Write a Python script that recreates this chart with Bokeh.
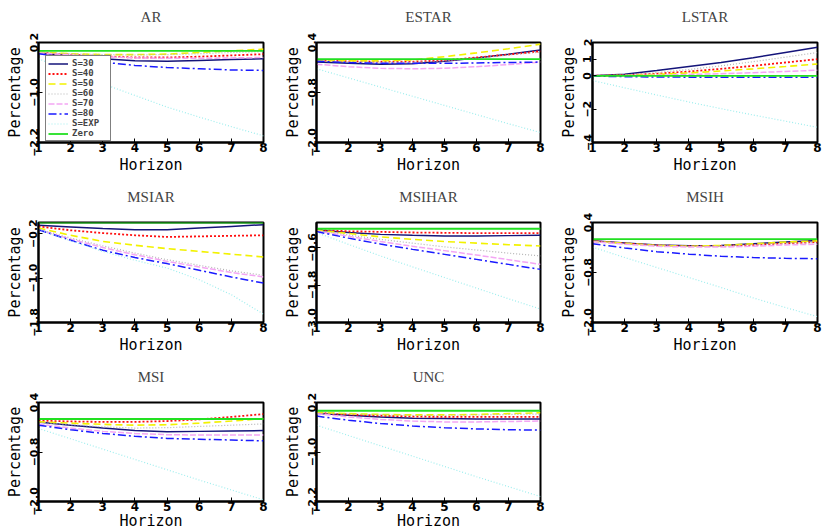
from bokeh.plotting import figure
from bokeh.layouts import row, column
from bokeh.models import Legend, LegendItem, FixedTicker, Range1d, Title
from bokeh.embed import file_html
from bokeh.resources import INLINE

horizon = [1, 2, 3, 4, 5, 6, 7, 8]
series_names = ["S=30", "S=40", "S=50", "S=60", "S=70", "S=80", "S=EXP", "Zero"]
zero = [0, 0, 0, 0, 0, 0, 0, 0]

# AR
ar_s30 = [-0.05, -0.12, -0.19, -0.24, -0.25, -0.23, -0.21, -0.19]
ar_s40 = [-0.04, -0.09, -0.13, -0.16, -0.16, -0.14, -0.11, -0.08]
ar_s50 = [-0.03, -0.07, -0.09, -0.09, -0.08, -0.04, 0.00, 0.04]
ar_s60 = [-0.04, -0.07, -0.09, -0.10, -0.09, -0.07, -0.04, -0.02]
ar_s70 = [-0.05, -0.10, -0.14, -0.17, -0.18, -0.18, -0.17, -0.16]
ar_s80 = [-0.07, -0.17, -0.27, -0.35, -0.40, -0.43, -0.46, -0.47]
ar_exp = [-0.19, -0.50, -0.79, -1.07, -1.35, -1.59, -1.82, -2.04]
# ESTAR
estar_s30 = [-0.07, -0.10, -0.12, -0.11, -0.05, 0.03, 0.12, 0.22]
estar_s40 = [-0.03, -0.05, -0.06, -0.06, -0.03, 0.04, 0.11, 0.19]
estar_s50 = [-0.03, -0.04, -0.04, -0.02, 0.06, 0.15, 0.25, 0.36]
estar_s60 = [-0.04, -0.06, -0.07, -0.07, -0.04, 0.02, 0.10, 0.17]
estar_s70 = [-0.12, -0.18, -0.22, -0.23, -0.22, -0.18, -0.13, -0.07]
estar_s80 = [-0.05, -0.08, -0.10, -0.10, -0.10, -0.09, -0.08, -0.07]
estar_exp = [-0.23, -0.45, -0.67, -0.89, -1.11, -1.33, -1.55, -1.76]
# LSTAR
lstar_s30 = [0.0, 0.09, 0.32, 0.56, 0.80, 1.09, 1.40, 1.72]
lstar_s40 = [0.0, 0.04, 0.13, 0.26, 0.42, 0.60, 0.80, 1.00]
lstar_s50 = [0.0, 0.02, 0.08, 0.17, 0.29, 0.42, 0.56, 0.71]
lstar_s60 = [0.0, 0.06, 0.20, 0.38, 0.60, 0.85, 1.12, 1.40]
lstar_s70 = [0.0, 0.01, 0.04, 0.08, 0.13, 0.19, 0.26, 0.34]
lstar_s80 = [-0.02, -0.05, -0.07, -0.08, -0.09, -0.09, -0.09, -0.09]
lstar_exp = [-0.28, -0.72, -1.15, -1.57, -1.97, -2.35, -2.72, -3.09]
# MSIAR
msiar_s30 = [-0.05, -0.08, -0.11, -0.13, -0.13, -0.10, -0.07, -0.04]
msiar_s40 = [-0.07, -0.14, -0.19, -0.23, -0.26, -0.25, -0.24, -0.23]
msiar_s50 = [-0.10, -0.23, -0.34, -0.41, -0.47, -0.52, -0.57, -0.62]
msiar_s60 = [-0.12, -0.28, -0.42, -0.55, -0.67, -0.77, -0.87, -0.95]
msiar_s70 = [-0.13, -0.30, -0.45, -0.58, -0.70, -0.80, -0.90, -0.98]
msiar_s80 = [-0.13, -0.32, -0.50, -0.63, -0.74, -0.86, -0.98, -1.09]
msiar_exp = [-0.13, -0.33, -0.52, -0.68, -0.82, -1.03, -1.30, -1.65]
# MSIHAR
msihar_s30 = [-0.04, -0.12, -0.18, -0.21, -0.23, -0.23, -0.22, -0.21]
msihar_s40 = [-0.04, -0.08, -0.10, -0.12, -0.13, -0.14, -0.14, -0.14]
msihar_s50 = [-0.05, -0.15, -0.26, -0.34, -0.41, -0.46, -0.51, -0.55]
msihar_s60 = [-0.06, -0.20, -0.34, -0.46, -0.58, -0.68, -0.78, -0.87]
msihar_s70 = [-0.07, -0.24, -0.41, -0.56, -0.70, -0.84, -0.99, -1.14]
msihar_s80 = [-0.09, -0.30, -0.49, -0.66, -0.82, -0.98, -1.14, -1.30]
msihar_exp = [-0.12, -0.50, -0.87, -1.22, -1.56, -1.90, -2.24, -2.57]
# MSIH
msih_s30 = [-0.04, -0.09, -0.14, -0.16, -0.15, -0.11, -0.07, -0.03]
msih_s40 = [-0.05, -0.10, -0.15, -0.17, -0.16, -0.14, -0.10, -0.07]
msih_s50 = [-0.05, -0.10, -0.15, -0.17, -0.15, -0.11, -0.07, -0.04]
msih_s60 = [-0.05, -0.11, -0.15, -0.17, -0.16, -0.13, -0.10, -0.08]
msih_s70 = [-0.06, -0.12, -0.17, -0.19, -0.19, -0.17, -0.14, -0.12]
msih_s80 = [-0.11, -0.21, -0.30, -0.36, -0.41, -0.44, -0.46, -0.47]
msih_exp = [-0.19, -0.44, -0.68, -0.92, -1.16, -1.41, -1.64, -1.86]
# MSI
msi_s30 = [-0.07, -0.15, -0.22, -0.28, -0.31, -0.30, -0.29, -0.28]
msi_s40 = [-0.04, -0.06, -0.07, -0.07, -0.05, -0.01, 0.05, 0.12]
msi_s50 = [-0.07, -0.10, -0.13, -0.15, -0.14, -0.10, -0.05, 0.01]
msi_s60 = [-0.08, -0.14, -0.19, -0.22, -0.21, -0.18, -0.15, -0.12]
msi_s70 = [-0.12, -0.22, -0.30, -0.35, -0.38, -0.39, -0.39, -0.39]
msi_s80 = [-0.15, -0.26, -0.35, -0.42, -0.47, -0.49, -0.51, -0.53]
msi_exp = [-0.23, -0.48, -0.73, -0.98, -1.23, -1.48, -1.72, -1.96]
# UNC
unc_s30 = [-0.06, -0.11, -0.15, -0.18, -0.19, -0.20, -0.20, -0.20]
unc_s40 = [-0.05, -0.09, -0.12, -0.14, -0.15, -0.15, -0.15, -0.15]
unc_s50 = [-0.04, -0.07, -0.09, -0.10, -0.10, -0.09, -0.07, -0.05]
unc_s60 = [-0.05, -0.08, -0.10, -0.11, -0.11, -0.10, -0.09, -0.08]
unc_s70 = [-0.07, -0.15, -0.21, -0.25, -0.27, -0.27, -0.26, -0.25]
unc_s80 = [-0.13, -0.23, -0.31, -0.37, -0.41, -0.44, -0.46, -0.47]
unc_exp = [-0.35, -0.60, -0.85, -1.10, -1.35, -1.60, -1.84, -2.08]

# y tick labels per panel
ar_yticks = [0.2, -1.0, -2.2]
estar_yticks = [0.4, -0.8, -2.0]
lstar_yticks = [2, 1, 0, -2, -4]
msiar_yticks = [-0.2, -1.0, -1.8]
msihar_yticks = [-0.6, -1.8, -3.0]
msih_yticks = [0.4, -0.8, -2.0]
msi_yticks = [0.4, -0.8, -2.0]
unc_yticks = [0.2, -1.0, -2.2]

STYLES = [
    dict(line_color="#14147a", line_width=1.5, line_dash="solid"),
    dict(line_color="#ff1010", line_width=1.8, line_dash="2 2"),
    dict(line_color="#f2f200", line_width=1.6, line_dash="7 4"),
    dict(line_color="#b4b4b4", line_width=1.2, line_dash="1 2"),
    dict(line_color="#f4a6f4", line_width=1.5, line_dash="6 2"),
    dict(line_color="#1a1aff", line_width=1.5, line_dash="8 3 2 3"),
    dict(line_color="#9eeeee", line_width=1.2, line_dash="1 2"),
    dict(line_color="#22e022", line_width=1.8, line_dash="solid"),
]

TICK_FONT = "DejaVu Sans"
LABEL_FONT = "DejaVu Sans Mono"


def fmt(t):
    s = ("%d" % t) if isinstance(t, int) else ("%.1f" % t)
    return s.replace("-", "\u2212")


def make_panel(name, series, yr, yticks, w, h, bl, br, bt, bb, legend=False,
               xlab_standoff=1):
    p = figure(width=w, height=h, x_range=Range1d(1, 8), y_range=Range1d(*yr),
               min_border_left=bl, min_border_right=br, min_border_top=bt,
               min_border_bottom=bb, output_backend="svg", toolbar_location=None,
               title=name)
    p.title.text_font = "Liberation Serif"
    p.title.text_font_size = "15px"
    p.title.text_font_style = "normal"
    p.title.align = "center"
    p.title.vertical_align = "top"
    p.title.standoff = 0
    # blank spacer between the frame and the title
    p.add_layout(Title(text=" ", text_font_size="12px", standoff=0), "above")
    p.xgrid.visible = False
    p.ygrid.visible = False
    p.outline_line_color = "black"
    p.outline_line_width = 2
    p.outline_line_alpha = 1
    p.background_fill_color = "white"
    p.border_fill_color = "white"

    p.xaxis.ticker = FixedTicker(ticks=horizon)
    p.yaxis.ticker = FixedTicker(ticks=yticks)
    for ax in (p.xaxis, p.yaxis):
        ax.axis_line_width = 2
        ax.major_tick_in = 4
        ax.major_tick_out = 0
        ax.minor_tick_in = 0
        ax.minor_tick_out = 0
        ax.major_label_text_font = TICK_FONT
        ax.major_label_text_font_style = "bold"
        ax.major_label_text_color = "black"
        ax.axis_label_text_font = LABEL_FONT
        ax.axis_label_text_font_style = "normal"
        ax.axis_label_text_font_size = "15px"
        ax.axis_label_text_color = "black"
    p.xaxis.major_label_text_font_size = "12px"
    p.yaxis.major_label_text_font_size = "11px"
    p.xaxis.axis_label = "Horizon"
    p.yaxis.axis_label = "Percentage"
    p.xaxis.major_label_standoff = 0
    p.xaxis.axis_label_standoff = xlab_standoff
    p.yaxis.major_label_standoff = 1
    p.yaxis.axis_label_standoff = 3
    p.yaxis.major_label_orientation = "parallel"
    p.yaxis.major_label_overrides = {t: fmt(t) for t in yticks}

    renderers = []
    for vals, st in zip(series + [zero], STYLES):
        r = p.line(horizon, vals, **st)
        renderers.append(r)

    if legend:
        items = [LegendItem(label=n, renderers=[r]) for n, r in zip(series_names, renderers)]
        lg = Legend(items=items, location=(7, 1))
        lg.glyph_width = 20
        lg.glyph_height = 9
        lg.label_height = 9
        lg.label_width = 36
        lg.spacing = 0
        lg.padding = 2
        lg.margin = 0
        lg.label_standoff = 4
        lg.label_text_font = LABEL_FONT
        lg.label_text_font_style = "bold"
        lg.label_text_font_size = "9px"
        lg.border_line_color = "black"
        lg.border_line_width = 1
        lg.background_fill_alpha = 1
        p.add_layout(lg)
    return p


p_ar = make_panel("AR", [ar_s30, ar_s40, ar_s50, ar_s60, ar_s70, ar_s80, ar_exp],
                  (-2.2, 0.2), ar_yticks, 280, 180, 38, 17, 42, 38, legend=True)
p_estar = make_panel("ESTAR", [estar_s30, estar_s40, estar_s50, estar_s60, estar_s70, estar_s80, estar_exp],
                     (-2.0, 0.4), estar_yticks, 275, 180, 35, 15, 42, 38)
p_lstar = make_panel("LSTAR", [lstar_s30, lstar_s40, lstar_s50, lstar_s60, lstar_s70, lstar_s80, lstar_exp],
                     (-4, 2), lstar_yticks, 268, 180, 37, 6, 42, 38)
p_msiar = make_panel("MSIAR", [msiar_s30, msiar_s40, msiar_s50, msiar_s60, msiar_s70, msiar_s80, msiar_exp],
                     (-1.8, 0.0), msiar_yticks, 280, 180, 38, 17, 42, 38)
p_msihar = make_panel("MSIHAR", [msihar_s30, msihar_s40, msihar_s50, msihar_s60, msihar_s70, msihar_s80, msihar_exp],
                      (-3.0, 0.2), msihar_yticks, 275, 180, 35, 15, 42, 38)
p_msih = make_panel("MSIH", [msih_s30, msih_s40, msih_s50, msih_s60, msih_s70, msih_s80, msih_exp],
                    (-2.0, 0.4), msih_yticks, 268, 180, 37, 6, 42, 38)
p_msi = make_panel("MSI", [msi_s30, msi_s40, msi_s50, msi_s60, msi_s70, msi_s80, msi_exp],
                   (-2.0, 0.4), msi_yticks, 280, 172, 38, 17, 42, 30, xlab_standoff=-2)
p_unc = make_panel("UNC", [unc_s30, unc_s40, unc_s50, unc_s60, unc_s70, unc_s80, unc_exp],
                   (-2.2, 0.2), unc_yticks, 275, 172, 35, 15, 42, 30, xlab_standoff=-2)

layout = column(
    row(p_ar, p_estar, p_lstar, spacing=0),
    row(p_msiar, p_msihar, p_msih, spacing=0),
    row(p_msi, p_unc, spacing=0),
    spacing=0,
)

open("out.html", "w").write(file_html(layout, INLINE))
